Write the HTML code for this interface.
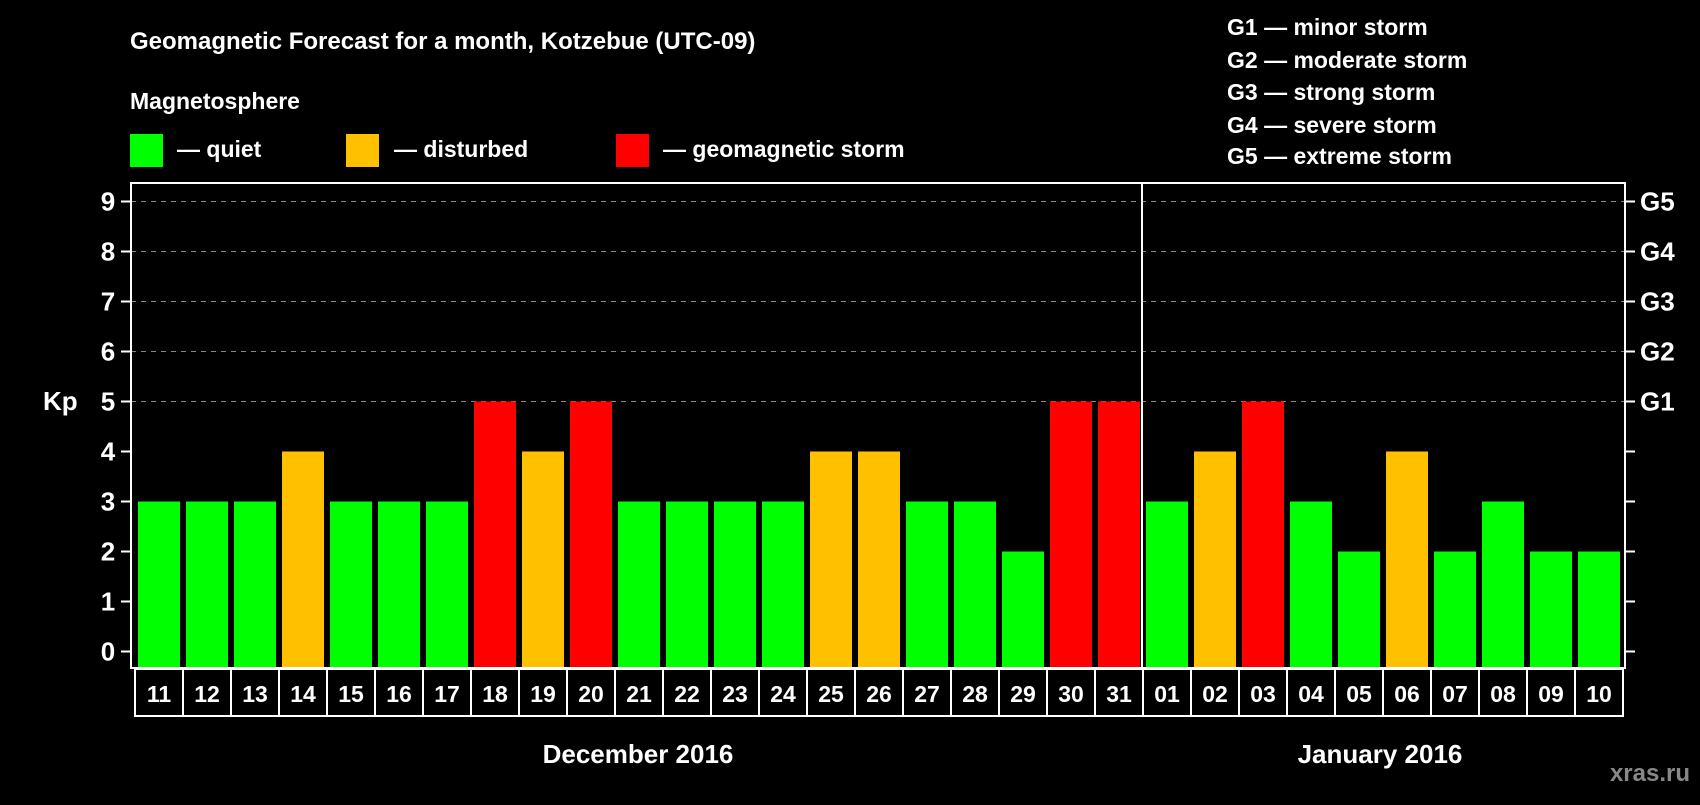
<!DOCTYPE html>
<html><head><meta charset="utf-8"><style>
body{margin:0;background:#000;width:1700px;height:800px;overflow:hidden;font-family:"Liberation Sans",sans-serif;}
svg text{font-family:"Liberation Sans",sans-serif;font-weight:bold;fill:#fff;}
</style></head><body>
<svg id="c" width="1700" height="800">
<text x="130" y="49" font-size="24">Geomagnetic Forecast for a month, Kotzebue (UTC-09)</text>
<text x="130" y="109" font-size="23">Magnetosphere</text>
<rect x="130" y="134" width="33" height="33" fill="#00ff00"/>
<text x="177" y="157" font-size="23">— quiet</text>
<rect x="346" y="134" width="33" height="33" fill="#ffc000"/>
<text x="394" y="157" font-size="23">— disturbed</text>
<rect x="616" y="134" width="33" height="33" fill="#ff0000"/>
<text x="663" y="157" font-size="23">— geomagnetic storm</text>
<g font-size="23">
<text x="1227" y="35">G1 — minor storm</text>
<text x="1227" y="68">G2 — moderate storm</text>
<text x="1227" y="100">G3 — strong storm</text>
<text x="1227" y="133">G4 — severe storm</text>
<text x="1227" y="164">G5 — extreme storm</text>
</g>
<text x="43" y="410" font-size="26">Kp</text>
<g id="grid"></g><g id="bars"></g><g id="axes"></g>
<text x="638" y="763" font-size="26" text-anchor="middle">December 2016</text>
<text x="1380" y="763" font-size="26" text-anchor="middle">January 2016</text>
<text x="1690" y="781" font-size="24" text-anchor="end" style="fill:#888">xras.ru</text>
</svg>
<script>
const days=["11","12","13","14","15","16","17","18","19","20","21","22","23","24","25","26","27","28","29","30","31","01","02","03","04","05","06","07","08","09","10"];
const kp=[3,3,3,4,3,3,3,5,4,5,3,3,3,3,4,4,3,3,2,5,5,3,4,5,3,2,4,2,3,2,2];
const yTicks=[0,1,2,3,4,5,6,7,8,9];
const gLabels=["G1","G2","G3","G4","G5"];
const NS="http://www.w3.org/2000/svg";
const L=131,R=1625,T=183,B=668,X0=135,SW=48;
const y=v=>651.5-v*50;
const x=i=>X0+i*SW;
function mk(t,a,p){const e=document.createElementNS(NS,t);for(const k in a)e.setAttribute(k,a[k]);p.appendChild(e);return e;}
const grid=document.getElementById('grid'),bars=document.getElementById('bars'),axes=document.getElementById('axes');
yTicks.forEach(v=>{
 if(v>=5){const g=mk('line',{x1:L,x2:R,y1:y(v),y2:y(v),stroke:'#888','stroke-dasharray':'5,5','stroke-width':1},grid);
 
 }
 mk('line',{x1:121,x2:L,y1:y(v),y2:y(v),stroke:'#fff','stroke-width':2},axes);
 mk('line',{x1:R,x2:R+10,y1:y(v),y2:y(v),stroke:'#fff','stroke-width':2},axes);
 const t=mk('text',{x:108,y:y(v)+9,'font-size':26,'text-anchor':'middle'},axes);t.textContent=v;
 
 
});
gLabels.forEach((g,i)=>{const t=mk('text',{x:1640,y:y(i+5)+9,'font-size':26},axes);t.textContent=g;
 
 });
kp.forEach((v,i)=>{
 const c=v>=5?'#ff0000':v==4?'#ffc000':'#00ff00';
 const r=mk('rect',{x:x(i)+3,y:y(v),width:SW-6,height:B-y(v)-1,fill:c},bars);
 
 
 mk('rect',{x:x(i),y:669,width:SW,height:47,fill:'none',stroke:'#fff','stroke-width':2},axes);
 const t=mk('text',{x:x(i)+SW/2,y:702,'font-size':23,'text-anchor':'middle'},axes);t.textContent=days[i];
 
 
});
mk('rect',{x:L,y:T,width:R-L,height:B-T,fill:'none',stroke:'#fff','stroke-width':2},axes);
const d=mk('line',{x1:x(21)-1,x2:x(21)-1,y1:T,y2:B,stroke:'#fff','stroke-width':2},axes);


</script>
</body></html>
